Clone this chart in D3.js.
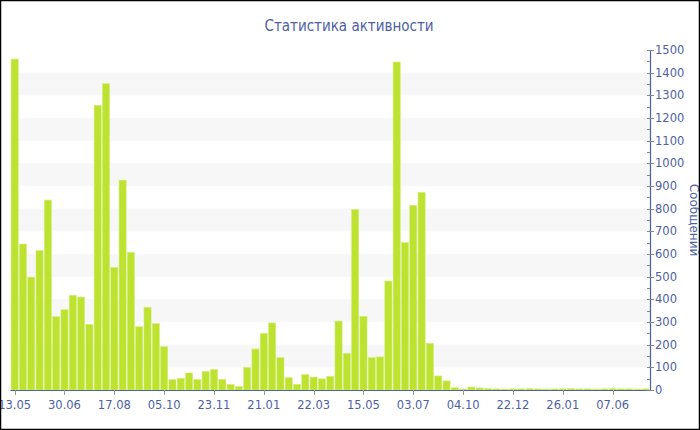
<!DOCTYPE html>
<html><head><meta charset="utf-8">
<script src="https://cdn.jsdelivr.net/npm/d3@7"></script>
<style>html,body{margin:0;padding:0;background:#fff;}svg{display:block;}</style>
</head><body>
<script>
const title = "Статистика активности";
const yTitle = "Сообщений";
const values = [1460,644,498,615,838,323,354,418,410,290,1256,1351,540,926,607,279,365,293,191,46,
  51,75,46,82,90,47,25,15,100,181,250,296,143,54,25,68,57,49,60,304,
  162,796,325,143,146,481,1447,650,815,872,206,62,40,10,4,13,9,
  6,5,4,5,5,6,5,4,5,5,6,5,5,4,5,6,5,5,4,5];
const tickLabels = ["13.05","30.06","17.08","05.10","23.11","21.01","22.03","15.05","03.07","04.10","22.12","26.01","07.06"];
const tickEvery = 6;

const W = 700, H = 430;
const mLeft = 10.5, mRight = 650, mTop = 50, mBottom = 390;
const txt = "#4d5fa5";
const font = "DejaVu Sans, Verdana, sans-serif";

const svg = d3.select("body").append("svg").attr("width", W).attr("height", H);

const x = d3.scaleBand().domain(d3.range(values.length)).range([mLeft, mRight]).paddingInner(0.14).paddingOuter(0.07);
const y = d3.scaleLinear().domain([0, 1500]).range([mBottom, mTop]);

// bands
const bandStarts = d3.range(100, 1500, 200);
svg.append("g").selectAll("rect").data(bandStarts).join("rect")
  .attr("x", mLeft).attr("width", mRight - mLeft)
  .attr("y", d => y(d + 100)).attr("height", d => y(d) - y(d + 100))
  .attr("fill", "#f7f7f7");

// bars
svg.append("g").selectAll("rect").data(values).join("rect")
  .attr("x", (d, i) => x(i)).attr("width", x.bandwidth())
  .attr("y", d => y(d)).attr("height", d => mBottom - y(d))
  .attr("fill", "#bde22f").attr("stroke", "#d3ee78").attr("stroke-width", 0.6);

// x axis
const xg = svg.append("g");
xg.append("line").attr("x1", mLeft).attr("x2", mRight).attr("y1", mBottom + 0.5).attr("y2", mBottom + 0.5)
  .attr("stroke", txt).attr("stroke-width", 1.2);
const tIdx = tickLabels.map((l, k) => k * tickEvery);
xg.selectAll("line.t").data(tIdx).join("line").attr("class", "t")
  .attr("x1", i => Math.round(x(i) + x.bandwidth() / 2) + 0.5).attr("x2", i => Math.round(x(i) + x.bandwidth() / 2) + 0.5)
  .attr("y1", mBottom).attr("y2", mBottom + 5).attr("stroke", "#999");
xg.selectAll("text").data(tIdx).join("text")
  .attr("x", i => x(i) + x.bandwidth() / 2).attr("y", mBottom + 19)
  .attr("text-anchor", "middle").attr("fill", txt)
  .style("font-family", font).style("font-size", "11.5px")
  .text((i, k) => tickLabels[k]);

// y axis (right)
const yg = svg.append("g");
yg.append("line").attr("x1", mRight + 0.5).attr("x2", mRight + 0.5).attr("y1", mTop).attr("y2", mBottom + 1)
  .attr("stroke", txt).attr("stroke-width", 1.2);
const major = y.ticks(15);
const minor = d3.range(50, 1500, 100);
yg.selectAll("line.mj").data(major).join("line").attr("class", "mj")
  .attr("x1", mRight - 3).attr("x2", mRight + 4)
  .attr("y1", d => Math.round(y(d)) + 0.5).attr("y2", d => Math.round(y(d)) + 0.5).attr("stroke", "#888");
yg.selectAll("line.mn").data(minor).join("line").attr("class", "mn")
  .attr("x1", mRight - 3).attr("x2", mRight)
  .attr("y1", d => Math.round(y(d)) + 0.5).attr("y2", d => Math.round(y(d)) + 0.5).attr("stroke", "#888");
yg.selectAll("text").data(major).join("text")
  .attr("x", mRight + 5).attr("y", d => y(d) + 4)
  .attr("fill", txt).style("font-family", font).style("font-size", "11.5px")
  .text(d => d);

svg.append("text").attr("transform", `translate(${690},${(mTop + mBottom) / 2}) rotate(90)`)
  .attr("text-anchor", "middle").attr("fill", txt)
  .style("font-family", font).style("font-size", "12px").text(yTitle);

svg.append("text").attr("x", 349).attr("y", 31).attr("text-anchor", "middle")
  .attr("fill", txt).style("font-family", "DejaVu Sans Condensed, DejaVu Sans, sans-serif").style("font-size", "15px").text(title);

// border
svg.append("rect").attr("x", 0.5).attr("y", 0.5).attr("width", W - 1).attr("height", H - 1)
  .attr("fill", "none").attr("stroke", "#000").attr("stroke-width", 1.5);
</script>
</body></html>
